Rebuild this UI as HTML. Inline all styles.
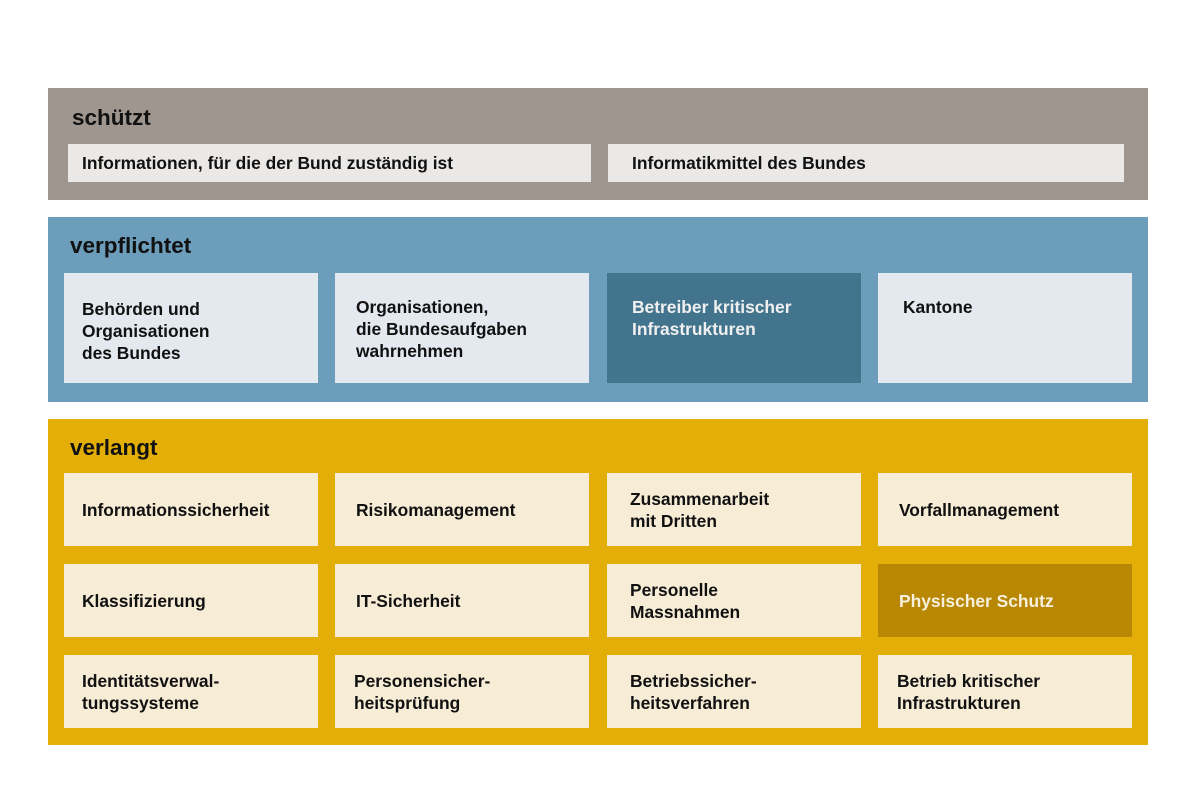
<!DOCTYPE html>
<html><head><meta charset="utf-8"><style>
body{margin:0;width:1200px;height:800px;background:#fff;position:relative;overflow:hidden;font-family:"Liberation Sans",sans-serif;font-weight:bold;color:#111}
.p{position:absolute;left:48px;width:1100px}
.h{position:absolute;font-size:22.5px;left:22px}
.b{position:absolute;box-sizing:border-box;font-size:17.4px;line-height:22px;padding-left:18px}
.g{background:#ebe9e7;top:56px;height:38px;display:flex;align-items:center}
.bl{background:#e4e9f0;top:56px;height:110px;padding-top:23px}
.y{background:#f7ecd6;height:73px;display:flex;align-items:center}
</style></head><body>
<div class="p" style="top:88px;height:112px;background:#9f9690">
 <div class="h" style="top:17px;left:24px">schützt</div>
 <div class="b g" style="left:20px;width:523px;padding-left:14px">Informationen, für die der Bund zuständig ist</div>
 <div class="b g" style="left:560px;width:516px;padding-left:24px">Informatikmittel des Bundes</div>
</div>
<div class="p" style="top:217px;height:185px;background:#6c9ebb">
 <div class="h" style="top:16px">verpflichtet</div>
 <div class="b bl" style="left:16px;width:254px;padding-top:25px">Behörden und<br>Organisationen<br>des Bundes</div>
 <div class="b bl" style="left:287px;width:254px;padding-left:21px">Organisationen,<br>die Bundesaufgaben<br>wahrnehmen</div>
 <div class="b bl" style="left:559px;width:254px;background:#42748d;color:#f0f0f0;padding-left:25px">Betreiber kritischer<br>Infrastrukturen</div>
 <div class="b bl" style="left:830px;width:254px;padding-left:25px">Kantone</div>
</div>
<div class="p" style="top:419px;height:326px;background:#e3ae07">
 <div class="h" style="top:16px">verlangt</div>
 <div class="b y" style="left:16px;top:54px;width:254px">Informationssicherheit</div>
 <div class="b y" style="left:287px;top:54px;width:254px;padding-left:21px">Risikomanagement</div>
 <div class="b y" style="left:559px;top:54px;width:254px;padding-left:23px">Zusammenarbeit<br>mit Dritten</div>
 <div class="b y" style="left:830px;top:54px;width:254px;padding-left:21px">Vorfallmanagement</div>
 <div class="b y" style="left:16px;top:145px;width:254px">Klassifizierung</div>
 <div class="b y" style="left:287px;top:145px;width:254px;padding-left:21px">IT-Sicherheit</div>
 <div class="b y" style="left:559px;top:145px;width:254px;padding-left:23px">Personelle<br>Massnahmen</div>
 <div class="b y" style="left:830px;top:145px;width:254px;padding-left:21px;background:#b88805;color:#f7f0dc">Physischer Schutz</div>
 <div class="b y" style="left:16px;top:236px;width:254px">Identitätsverwal-<br>tungssysteme</div>
 <div class="b y" style="left:287px;top:236px;width:254px;padding-left:19px">Personensicher-<br>heitsprüfung</div>
 <div class="b y" style="left:559px;top:236px;width:254px;padding-left:23px">Betriebssicher-<br>heitsverfahren</div>
 <div class="b y" style="left:830px;top:236px;width:254px;padding-left:19px">Betrieb kritischer<br>Infrastrukturen</div>
</div>
</body></html>
